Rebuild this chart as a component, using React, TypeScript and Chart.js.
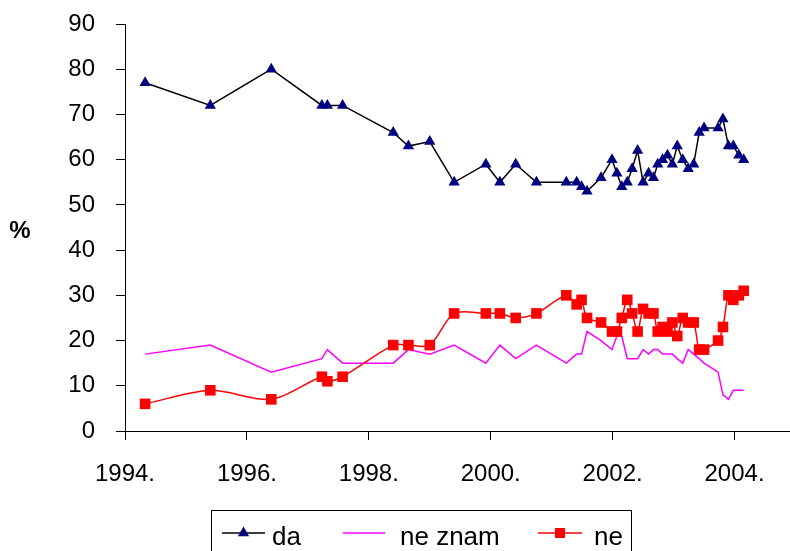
import React, { useEffect, useRef } from 'react';
import { Chart, registerables } from 'chart.js';

Chart.register(...registerables);

// Survey dates as decimal years
const surveyDates = [
  1994.33, 1995.40, 1996.40, 1997.23, 1997.32, 1997.57, 1998.40, 1998.65, 1999.00, 1999.40,
  1999.92, 2000.15, 2000.41, 2000.75, 2001.24, 2001.41, 2001.49, 2001.58, 2001.81, 2001.99,
  2002.07, 2002.15, 2002.24, 2002.32, 2002.41, 2002.50, 2002.59, 2002.67, 2002.74, 2002.82,
  2002.90, 2002.98, 2003.06, 2003.15, 2003.24, 2003.33, 2003.42, 2003.50, 2003.73, 2003.81,
  2003.90, 2003.98, 2004.07, 2004.15,
];

const daValues = [
  77, 72, 80, 72, 72, 72, 66, 63, 64, 55,
  59, 55, 59, 55, 55, 55, 54, 53, 56, 60,
  57, 54, 55, 58, 62, 55, 57, 56, 59, 60,
  61, 59, 63, 60, 58, 59, 66, 67, 67, 69,
  63, 63, 61, 60,
];

const neZnamValues = [
  17, 19, 13, 16, 18, 15, 15, 18, 17, 19,
  15, 19, 16, 19, 15, 17, 17, 22, 20, 18,
  21, 21, 16, 16, 16, 18, 17, 18, 18, 17,
  17, 17, 16, 15, 18, 17, 16, 15, 13, 8,
  7, 9, 9, 9,
];

const neValues = [
  6, 9, 7, 12, 11, 12, 19, 19, 19, 26,
  26, 26, 25, 26, 30, 28, 29, 25, 24, 22,
  22, 25, 29, 26, 22, 27, 26, 26, 22, 23,
  22, 24, 21, 25, 24, 24, 18, 18, 20, 23,
  30, 29, 30, 31,
];

const seriesLabels = ['da', 'ne znam', 'ne'];
const yearTicks = [1994, 1996, 1998, 2000, 2002, 2004];
const yTickValues = [0, 10, 20, 30, 40, 50, 60, 70, 80, 90];
const yAxisTitle = '%';

const FONT = "'Liberation Sans', Arial, sans-serif";

const toPoints = (vals: number[]) => vals.map((v, i) => ({ x: surveyDates[i], y: v }));

const extrasPlugin = {
  id: 'extras',
  afterDraw(chart: any) {
    const ctx = chart.ctx as CanvasRenderingContext2D;
    ctx.save();
    // y axis title
    ctx.fillStyle = '#000';
    ctx.font = `bold 24px ${FONT}`;
    ctx.textAlign = 'center';
    ctx.textBaseline = 'middle';
    ctx.fillText(yAxisTitle, 20, 231);

    // legend box
    ctx.strokeStyle = '#000';
    ctx.lineWidth = 1;
    ctx.strokeRect(211.5, 510.5, 420, 60);

    const items = [
      { x0: 222, x1: 265, tx: 272 },
      { x0: 343, x1: 385, tx: 400 },
      { x0: 538, x1: 582, tx: 594 },
    ];
    const ly = 533;
    chart.data.datasets.forEach((ds: any, i: number) => {
      const it = items[i];
      ctx.strokeStyle = ds.borderColor;
      ctx.lineWidth = ds.borderWidth;
      ctx.beginPath();
      ctx.moveTo(it.x0, ly);
      ctx.lineTo(it.x1, ly);
      ctx.stroke();
      const cx = (it.x0 + it.x1) / 2;
      if (ds.pointStyle === 'triangle') {
        ctx.fillStyle = ds.pointBackgroundColor;
        const r = 6.5;
        ctx.beginPath();
        ctx.moveTo(cx, ly - r);
        ctx.lineTo(cx + r * Math.sin((2 * Math.PI) / 3), ly - r * Math.cos((2 * Math.PI) / 3));
        ctx.lineTo(cx + r * Math.sin((4 * Math.PI) / 3), ly - r * Math.cos((4 * Math.PI) / 3));
        ctx.closePath();
        ctx.fill();
      } else if (ds.pointStyle === 'rect') {
        ctx.fillStyle = ds.pointBackgroundColor;
        ctx.fillRect(cx - 5, ly - 5, 10, 10);
      }
      ctx.fillStyle = '#000';
      ctx.font = `26px ${FONT}`;
      ctx.textAlign = 'left';
      ctx.textBaseline = 'alphabetic';
      ctx.fillText(seriesLabels[i], it.tx, 545);
    });
    ctx.restore();
  },
};

export default function App() {
  const canvasRef = useRef<HTMLCanvasElement | null>(null);

  useEffect(() => {
    if (!canvasRef.current) return;
    const chart = new Chart(canvasRef.current, {
      type: 'line',
      data: {
        datasets: [
          {
            label: seriesLabels[0],
            data: toPoints(daValues),
            borderColor: '#000000',
            borderWidth: 1.5,
            pointStyle: 'triangle',
            pointRadius: 6.5,
            pointBackgroundColor: '#000080',
            pointBorderColor: '#000080',
            pointBorderWidth: 0,
            tension: 0,
            order: 2,
          },
          {
            label: seriesLabels[1],
            data: toPoints(neZnamValues),
            borderColor: '#FF00FF',
            borderWidth: 1.5,
            pointRadius: 0,
            tension: 0,
            order: 1,
          },
          {
            label: seriesLabels[2],
            data: toPoints(neValues),
            borderColor: '#FF0000',
            borderWidth: 1.5,
            pointStyle: 'rect',
            pointRadius: 7.5,
            pointBackgroundColor: '#FF0000',
            pointBorderColor: '#FF0000',
            pointBorderWidth: 0,
            tension: 0.3,
            order: 0,
          },
        ],
      },
      options: {
        animation: false,
        responsive: false,
        maintainAspectRatio: false,
        events: [],
        layout: { autoPadding: false, padding: { top: 24, right: 0, bottom: 0, left: 0 } },
        plugins: {
          legend: { display: false },
          tooltip: { enabled: false },
          title: { display: false },
        },
        scales: {
          x: {
            type: 'linear',
            min: 1994,
            max: 2004.91,
            afterBuildTicks: (scale: any) => {
              scale.ticks = yearTicks.map((v) => ({ value: v }));
            },
            afterFit: (scale: any) => {
              scale.height = 120;
              scale.paddingLeft = 0;
              scale.paddingRight = 0;
            },
            ticks: {
              autoSkip: false,
              maxRotation: 0,
              color: '#000',
              font: { family: FONT, size: 24 },
              padding: 20,
              callback: (v: any) => `${v}.`,
            },
            grid: {
              display: true,
              drawOnChartArea: false,
              drawTicks: true,
              tickLength: 9,
              color: '#000',
            },
            border: { display: true, color: '#000', width: 1 },
          },
          y: {
            type: 'linear',
            min: 0,
            max: 90,
            afterBuildTicks: (scale: any) => {
              scale.ticks = yTickValues.map((v) => ({ value: v }));
            },
            afterFit: (scale: any) => {
              scale.width = 125;
              scale.paddingTop = 0;
              scale.paddingBottom = 0;
            },
            ticks: {
              color: '#000',
              font: { family: FONT, size: 24 },
              padding: 21,
            },
            grid: {
              display: true,
              drawOnChartArea: false,
              drawTicks: true,
              tickLength: 9,
              color: '#000',
            },
            border: { display: true, color: '#000', width: 1 },
          },
        },
      },
      plugins: [extrasPlugin],
    } as any);
    return () => chart.destroy();
  }, []);

  return (
    <div style={{ position: 'fixed', left: 0, top: 0, width: 790, height: 551, overflow: 'hidden', background: '#fff' }}>
      <canvas ref={canvasRef} width={790} height={551} style={{ display: 'block', width: 790, height: 551 }} />
    </div>
  );
}
